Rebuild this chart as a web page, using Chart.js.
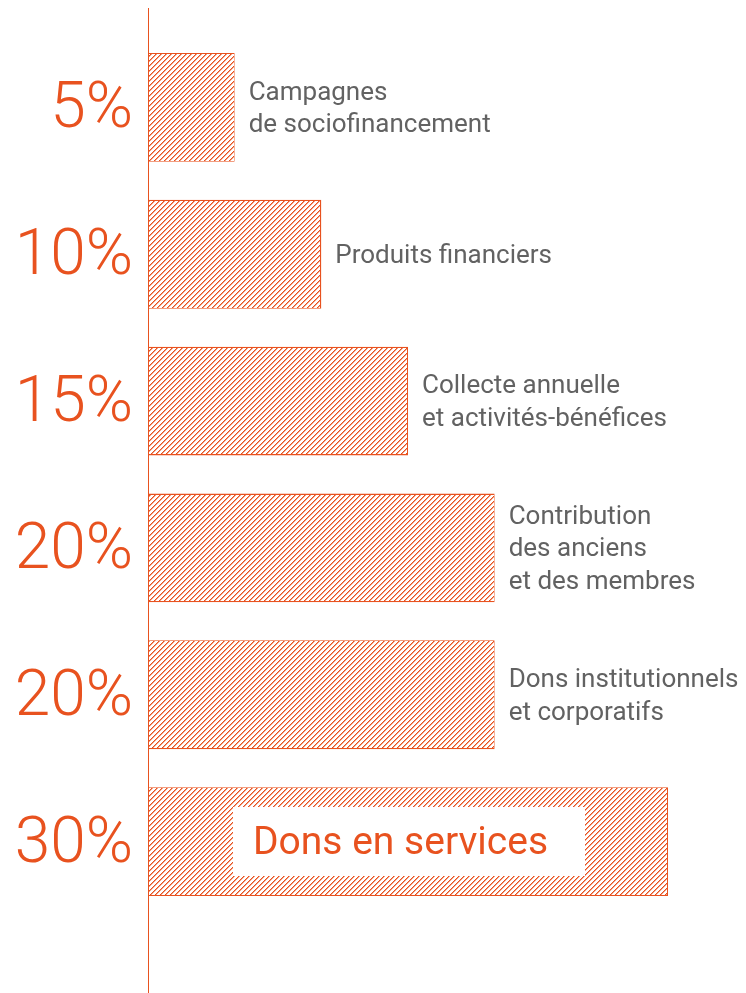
<!DOCTYPE html>
<html>
<head>
<meta charset="utf-8">
<script src="https://cdn.jsdelivr.net/npm/chart.js@4.4.1/dist/chart.umd.min.js"></script>
<style>
  body { margin: 0; background: #fff; }
  #wrap { width: 746px; height: 993px; position: relative; }
</style>
</head>
<body>
<div id="wrap"><canvas id="graficaSources"></canvas></div>
<script>
const categories = [
  "Campagnes de sociofinancement",
  "Produits financiers",
  "Collecte annuelle et activités-bénéfices",
  "Contribution des anciens et des membres",
  "Dons institutionnels et corporatifs",
  "Dons en services"
];
const values = [5, 10, 15, 20, 20, 30];
const tickLabels = ["5%", "10%", "15%", "20%", "20%", "30%"];
const labelLines = [
  ["Campagnes", "de sociofinancement"],
  ["Produits financiers"],
  ["Collecte annuelle", "et activités-bénéfices"],
  ["Contribution", "des anciens", "et des membres"],
  ["Dons institutionnels", "et corporatifs"],
  ["Dons en services"]
];

const orange = "#e8521f";
const grey = "#626262";

// tuile de hachures pixel par pixel (5x5)
function hatchTile() {
  const s = 5;
  const c = document.createElement("canvas");
  c.width = s; c.height = s;
  const g = c.getContext("2d");
  g.fillStyle = "#fff";
  g.fillRect(0, 0, s, s);
  for (let i = 0; i < s; i++) {
    const y = s - 1 - i;
    g.fillStyle = orange;
    g.fillRect(i, y, 1, 1);
    g.fillStyle = "rgba(232,82,31,0.55)";
    g.fillRect((i + 1) % s, y, 1, 1);
  }
  return c;
}
const tile = hatchTile();

const etiquettes = {
  id: "etiquettes",
  beforeDatasetsDraw(chart) {
    const ctx = chart.ctx;
    const x0 = Math.round(chart.scales.x.getPixelForValue(0)) + 0.5;
    ctx.save();
    ctx.strokeStyle = orange;
    ctx.lineWidth = 1;
    ctx.beginPath();
    ctx.moveTo(x0, 8);
    ctx.lineTo(x0, chart.height);
    ctx.stroke();
    ctx.restore();
  },
  afterDatasetsDraw(chart) {
    const ctx = chart.ctx;
    const meta = chart.getDatasetMeta(0);
    const pat = ctx.createPattern(tile, "repeat");
    ctx.save();
    meta.data.forEach((bar) => {
      const l = Math.round(bar.base) + 1, r = Math.round(bar.x) - 1;
      const t = Math.round(bar.y - bar.height / 2) + 1;
      const b = Math.round(bar.y + bar.height / 2) - 1;
      ctx.fillStyle = pat;
      ctx.fillRect(l, t, r - l, b - t);
    });

    meta.data.forEach((bar, i) => {
      const lines = labelLines[i];
      if (i === values.length - 1) {
        // étiquette dans la barre
        ctx.fillStyle = "#fff";
        ctx.fillRect(Math.round(bar.base) + 85, Math.round(bar.y) - 35, 352, 69);
        ctx.fillStyle = orange;
        ctx.font = "400 39px Roboto";
        ctx.textBaseline = "middle";
        ctx.textAlign = "left";
        ctx.fillText(lines[0], bar.base + 105, bar.y + 3);
        return;
      }
      ctx.fillStyle = grey;
      ctx.font = "400 26px Roboto";
      ctx.textBaseline = "middle";
      ctx.textAlign = "left";
      const lh = 32.5;
      const top = bar.y + 2 - (lines.length - 1) * lh / 2;
      lines.forEach((txt, k) => {
        ctx.fillText(txt, bar.x + 14, top + k * lh);
      });
    });
    ctx.restore();
  }
};

const ctx = document.getElementById("graficaSources").getContext("2d");
window.myChart = new Chart(ctx, {
  type: "bar",
  data: {
    labels: categories,
    datasets: [{
      data: values,
      backgroundColor: "#ffffff",
      borderColor: orange,
      borderWidth: 1.5,
      borderSkipped: false,
      categoryPercentage: 1,
      barPercentage: 0.741
    }]
  },
  options: {
    indexAxis: "y",
    responsive: true,
    maintainAspectRatio: false,
    animation: false,
    layout: { padding: { top: 34, bottom: 78, left: 0, right: 0 } },
    plugins: { legend: { display: false }, tooltip: { enabled: false } },
    scales: {
      x: { display: false, min: 0, max: 34.5 },
      y: {
        grid: { display: false },
        border: { display: false },
        afterFit: (scale) => {
          scale.width = 148;
          scale.paddingTop = 0;
          scale.paddingBottom = 0;
        },
        ticks: {
          padding: 7,
          labelOffset: 4,
          color: orange,
          font: { family: "Roboto", size: 64, weight: 300 },
          callback: (v, i) => tickLabels[i]
        }
      }
    }
  },
  plugins: [etiquettes]
});
</script>
</body>
</html>
